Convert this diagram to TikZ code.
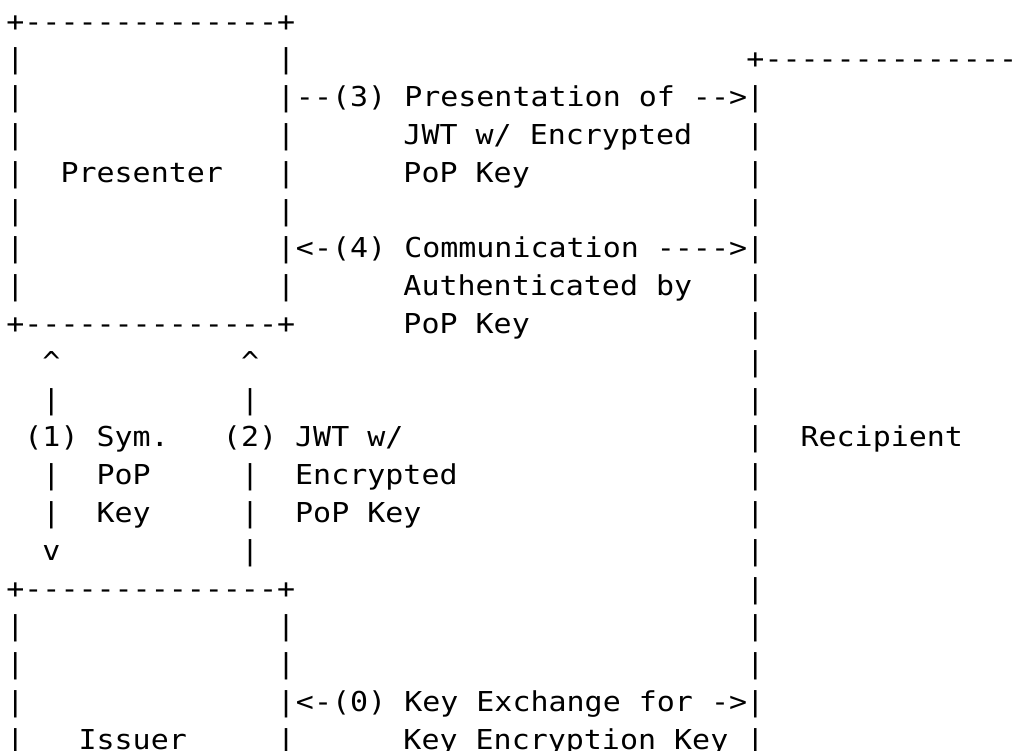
\documentclass[tikz,border=0pt]{standalone}
\usepackage{fontspec}
\usepackage{tikz}
\usetikzlibrary{positioning}
\newfontfamily\artfont[Ligatures=TeXOff,FakeStretch=1.094]{DejaVu Sans Mono}

\begin{document}
\begin{tikzpicture}
      [x=9.025pt,y=-18.9pt,
       artText/.style={font=\artfont\fontsize{13.7}{18.9}\selectfont,inner sep=0pt,anchor=base west}]
      \useasboundingbox (-0.332,-0.823) rectangle (56.233,19.019);
      % Presenter box
      \node[artText] (presenterTop) at (0,0) {+--------------+};
      \foreach \r in {1,...,7} {
        \node[artText] (presenterLeft\r) at (0,\r) {|};
        \node[artText] (presenterRight\r) at (15,\r) {|};
      }
      \node[artText] (presenterBottom) at (0,8) {+--------------+};
      \node[artText] (presenter) at (3,4) {Presenter};
      % Issuer box
      \node[artText] (issuerTop) at (0,15) {+--------------+};
      \foreach \r in {16,...,19} {
        \node[artText] (issuerLeft\r) at (0,\r) {|};
        \node[artText] (issuerRight\r) at (15,\r) {|};
      }
      \node[artText] (issuer) at (4,19) {Issuer};
      % Recipient box
      \node[artText] (recipientTop) at (41,1) {+----------------};
      \foreach \r in {2,...,19}
        \node[artText] (recipientLeft\r) at (41,\r) {|};
      \node[artText] (recipient) at (44,11) {Recipient};
      % messages between presenter and recipient
      \node[artText] (msgThree) [base right=0pt of presenterRight2] {--(3) Presentation of -->};
      \node[artText] (msgThreeA) at (22,3) {JWT w/ Encrypted};
      \node[artText] (msgThreeB) at (22,4) {PoP Key};
      \node[artText] (msgFour) [base right=0pt of presenterRight6] {<-(4) Communication ---->};
      \node[artText] (msgFourA) at (22,7) {Authenticated by};
      \node[artText] (msgFourB) at (22,8) {PoP Key};
      % message between issuer and recipient
      \node[artText] (msgZero) [base right=0pt of issuerRight18] {<-(0) Key Exchange for ->};
      \node[artText] (msgZeroA) at (22,19) {Key Encryption Key};
      % (1) symmetric key, issuer <-> presenter
      \node[artText] (oneUp) at (2,9) {\textasciicircum};
      \node[artText] (oneBar) at (2,10) {|};
      \node[artText] (msgOne) at (1,11) {(1)};
      \node[artText] (oneBarA) at (2,12) {|};
      \node[artText] (oneBarB) at (2,13) {|};
      \node[artText] (oneDown) at (2,14) {v};
      \node[artText] (msgOneA) at (5,11) {Sym.};
      \node[artText] (msgOneB) at (5,12) {PoP};
      \node[artText] (msgOneC) at (5,13) {Key};
      % (2) JWT, issuer -> presenter
      \node[artText] (twoUp) at (13,9) {\textasciicircum};
      \node[artText] (twoBar) at (13,10) {|};
      \node[artText] (msgTwo) at (12,11) {(2)};
      \foreach \r in {12,13,14}
        \node[artText] (twoBar\r) at (13,\r) {|};
      \node[artText] (msgTwoA) at (16,11) {JWT w/};
      \node[artText] (msgTwoB) at (16,12) {Encrypted};
      \node[artText] (msgTwoC) at (16,13) {PoP Key};
    \end{tikzpicture}
\end{document}
